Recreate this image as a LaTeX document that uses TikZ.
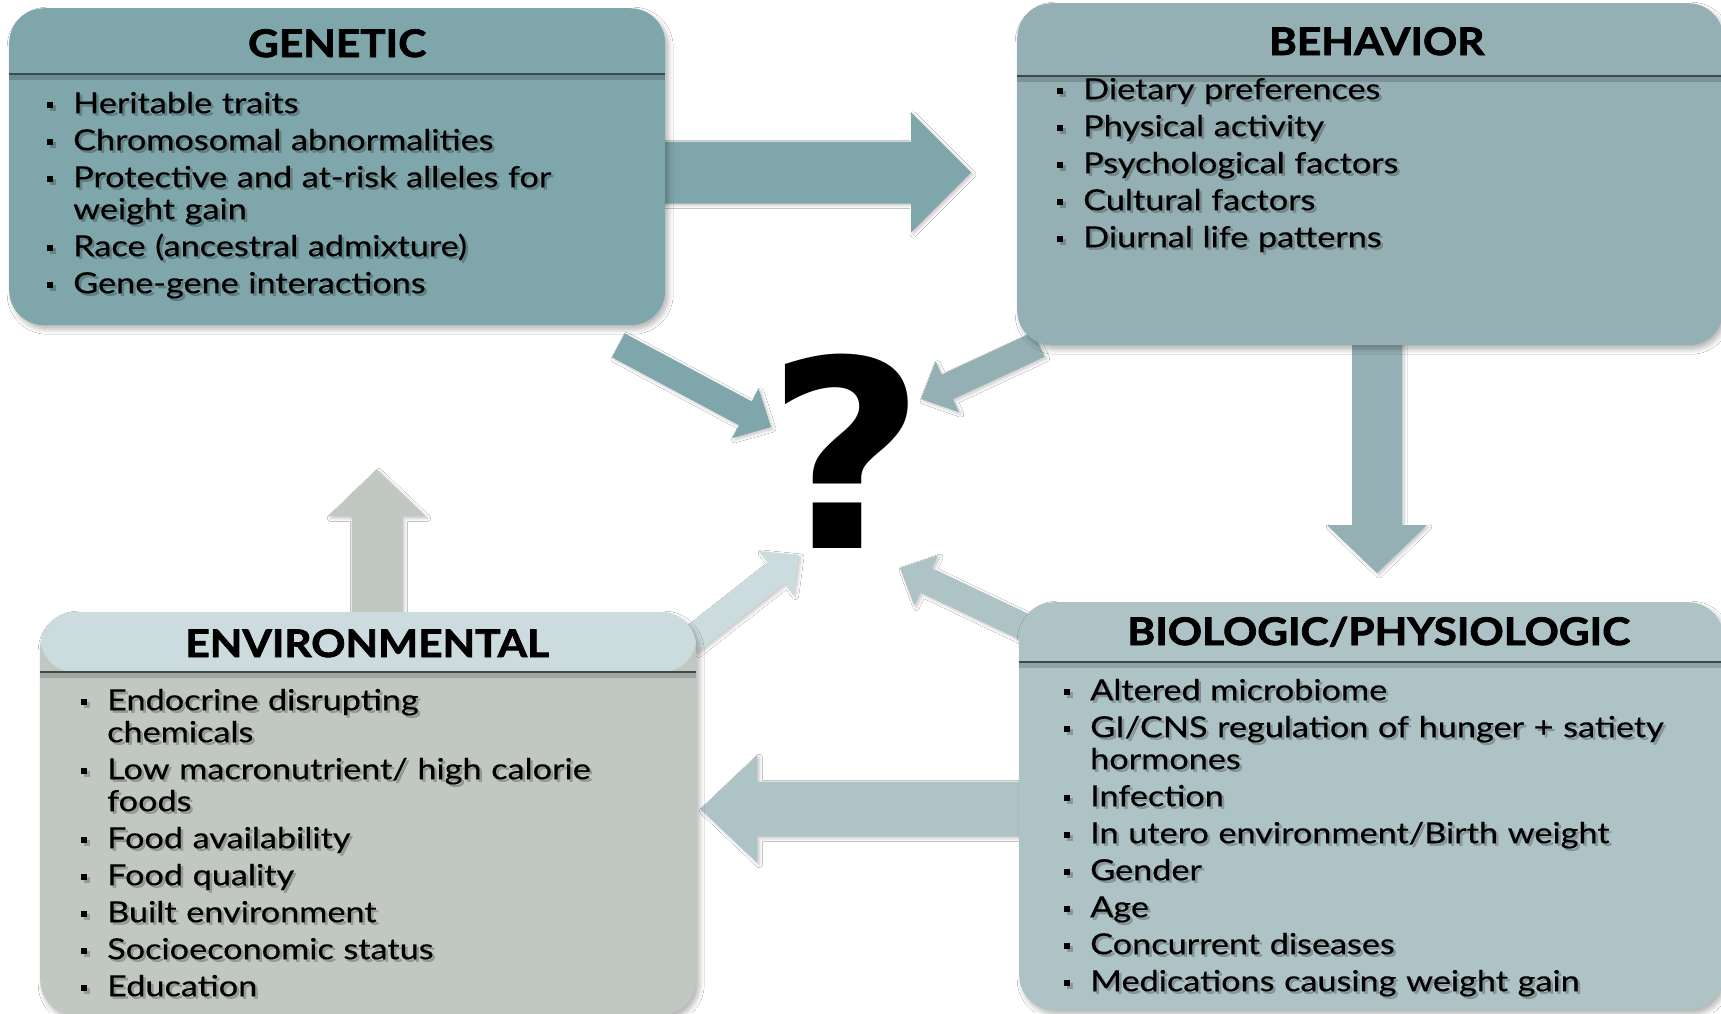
\documentclass[tikz,border=0pt]{standalone}
\usepackage{fontspec}
\setmainfont{Lato}[FakeStretch=1.18, FakeBold=0.4]
\newfontfamily\headfont{Lato}[FakeStretch=1.115, BoldFeatures={FakeBold=2}]
\newfontfamily\qfont{DejaVu Sans}[FakeStretch=1.05]
\usetikzlibrary{calc,backgrounds,shadows.blur}

\definecolor{genfill}{RGB}{126,166,171}
\definecolor{behfill}{RGB}{148,176,180}
\definecolor{biofill}{RGB}{173,195,198}
\definecolor{envhead}{RGB}{204,219,221}
\definecolor{envbody}{RGB}{192,200,193}
\definecolor{ruleclr}{RGB}{60,74,76}

% list bullet and one hanging entry
\newcommand\bul{\makebox[26pt][l]{\raisebox{4.8pt}{\rule{6pt}{6pt}}}}
\newcommand\entry[1]{\par\hangindent=26pt\hangafter=1\noindent\bul#1}
\newcommand\firstline{\rule{0pt}{30pt}}

% item list with a soft text shadow behind it
\newcommand\listnode[3]{%
  \node[itemlist, text=black, text opacity=0.22] (#1-shadow) at ($#2+(2.5,2.5)$) {#3};
  \node[itemlist] (#1) at #2 {#3};}

% header separator with its shadow
\newcommand\headrule[2]{%
  \draw[black, opacity=.16, line width=5pt] ($(#1.north west)+(0,#2+3)$) -- ($(#1.north east)+(0,#2+3)$);
  \draw[ruleclr, line width=2pt] ($(#1.north west)+(0,#2)$) -- ($(#1.north east)+(0,#2)$);}

% block arrow: name, tail, tip, shaft half width, head half width, head length, colour
\newcommand\blockarrow[7]{%
  \coordinate (#1-hb) at ($(#3)!#6!(#2)$);
  \fill[#7, arrowshadow]
    ($(#2)!#4!90:(#3)$) -- ($(#1-hb)!#4!90:(#3)$) -- ($(#1-hb)!#5!90:(#3)$) -- (#3)
    -- ($(#1-hb)!#5!-90:(#3)$) -- ($(#1-hb)!#4!-90:(#3)$) -- ($(#2)!#4!-90:(#3)$) -- cycle;}

\tikzset{
  panel/.style={rounded corners=35pt, anchor=north west, inner sep=0pt, draw=none,
    blur shadow={shadow xshift=3pt, shadow yshift=-4pt, shadow blur radius=5pt,
                 shadow blur steps=8, shadow opacity=30}},
  heading/.style={anchor=base, inner sep=0pt, font=\headfont\bfseries\fontsize{38}{42}\selectfont},
  itemlist/.style={anchor=north west, inner sep=0pt, text width=660pt, align=left,
    font=\fontsize{29}{32}\selectfont},
  arrowshadow/.style={blur shadow={shadow xshift=2pt, shadow yshift=-2pt,
    shadow blur radius=3pt, shadow blur steps=6, shadow opacity=22}},
}

\begin{document}
\begin{tikzpicture}[x=1pt, y=-1pt]
\useasboundingbox (0,0) rectangle (1721,1013);

% panels
\node[panel, fill=genfill, minimum width=656pt, minimum height=317pt] (gen) at (9,8) {};
\node[panel, fill=behfill, minimum width=706pt, minimum height=342pt] (beh) at (1017,3) {};
\node[panel, fill=envbody, minimum width=656pt, minimum height=403pt,
  path picture={\fill[envhead] (path picture bounding box.north west) rectangle
    ([yshift=-60pt]path picture bounding box.north east);}] (env) at (40,612) {};
\node[panel, fill=biofill, minimum width=704pt, minimum height=408pt] (bio) at (1019,602) {};

\headrule{gen}{66}
\headrule{beh}{73}
\headrule{env}{60}
\headrule{bio}{60}

% headings
\node[heading] (gen-title) at ($(gen.north)+(0,49)$) {GENETIC};
\node[heading] (beh-title) at ($(beh.north)+(6.5,52)$) {BEHAVIOR};
\node[heading] (env-title) at ($(env.north)+(-1,45)$) {ENVIRONMENTAL};
\node[heading] (bio-title) at ($(bio.north)+(7.5,43)$) {BIOLOGIC/PHYSIOLOGIC};

% factor lists
\listnode{gen-list}{($(gen.north west)+(38,68)$)}{%
  \setlength\parskip{5pt}%
  \entry{\firstline Heritable traits}
  \entry{Chromosomal abnormalities}
  \entry{Protective and at-risk alleles for\newline weight gain}
  \entry{Race (ancestral admixture)}
  \entry{Gene-gene interactions}}

\listnode{beh-list}{($(beh.north west)+(40,59)$)}{%
  \setlength\parskip{5pt}%
  \entry{\firstline Dietary preferences}
  \entry{Physical activity}
  \entry{Psychological factors}
  \entry{Cultural factors}
  \entry{Diurnal life patterns}}

\listnode{env-list}{($(env.north west)+(41,61)$)}{%
  \setlength\parskip{5pt}%
  \entry{\firstline Endocrine disrupting\newline chemicals}
  \entry{Low macronutrient/ high calorie\newline foods}
  \entry{Food availability}
  \entry{Food quality}
  \entry{Built environment}
  \entry{Socioeconomic status}
  \entry{Education}}

\listnode{bio-list}{($(bio.north west)+(45,61)$)}{%
  \setlength\parskip{5pt}%
  \entry{\firstline Altered microbiome}
  \entry{GI/CNS regulation of hunger + satiety\newline hormones}
  \entry{Infection}
  \entry{In utero environment/Birth weight}
  \entry{Gender}
  \entry{Age}
  \entry{Concurrent diseases}
  \entry{Medications causing weight gain}}

% central question mark
\node[inner sep=0pt, font=\qfont\bfseries\fontsize{262}{262}\selectfont] (q) at (846,451) {?};

\begin{pgfonlayer}{background}
  \fill[white] (0,0) rectangle (1721,1013);
  % cycle of influences
  \blockarrow{a1}{$(gen.north east)+(-30,164.5)$}{$(beh.north west)+(-46,169.5)$}{31pt}{60pt}{60pt}{genfill}
  \blockarrow{a2}{$(beh.south west)+(360,-20)$}{$(bio.north west)+(358,-29)$}{25pt}{50pt}{48pt}{behfill}
  \blockarrow{a3}{$(bio.north west)+(20,207)$}{$(env.north east)+(4,197)$}{27.5pt}{54pt}{57pt}{biofill}
  \blockarrow{a4}{$(env.north west)+(337,20)$}{$(gen.south west)+(368,144)$}{25.5pt}{49pt}{47pt}{envbody}
  % influences on the question
  \blockarrow{a5}{$(gen.south east)+(-47,20)$}{$(q.center)+(-75,-24)$}{13.5pt}{28pt}{29pt}{genfill}
  \blockarrow{a6}{$(beh.south west)+(22,-1)$}{$(q.center)+(75,-52)$}{13.5pt}{28pt}{29pt}{behfill}
  \blockarrow{a7}{$(env.north east)+(-8,30)$}{$(q.center)+(-47,104)$}{13.5pt}{28pt}{29pt}{envhead}
  \blockarrow{a8}{$(bio.north west)+(12,28)$}{$(q.center)+(54,117)$}{13.5pt}{28pt}{29pt}{biofill}
\end{pgfonlayer}
\end{tikzpicture}
\end{document}
